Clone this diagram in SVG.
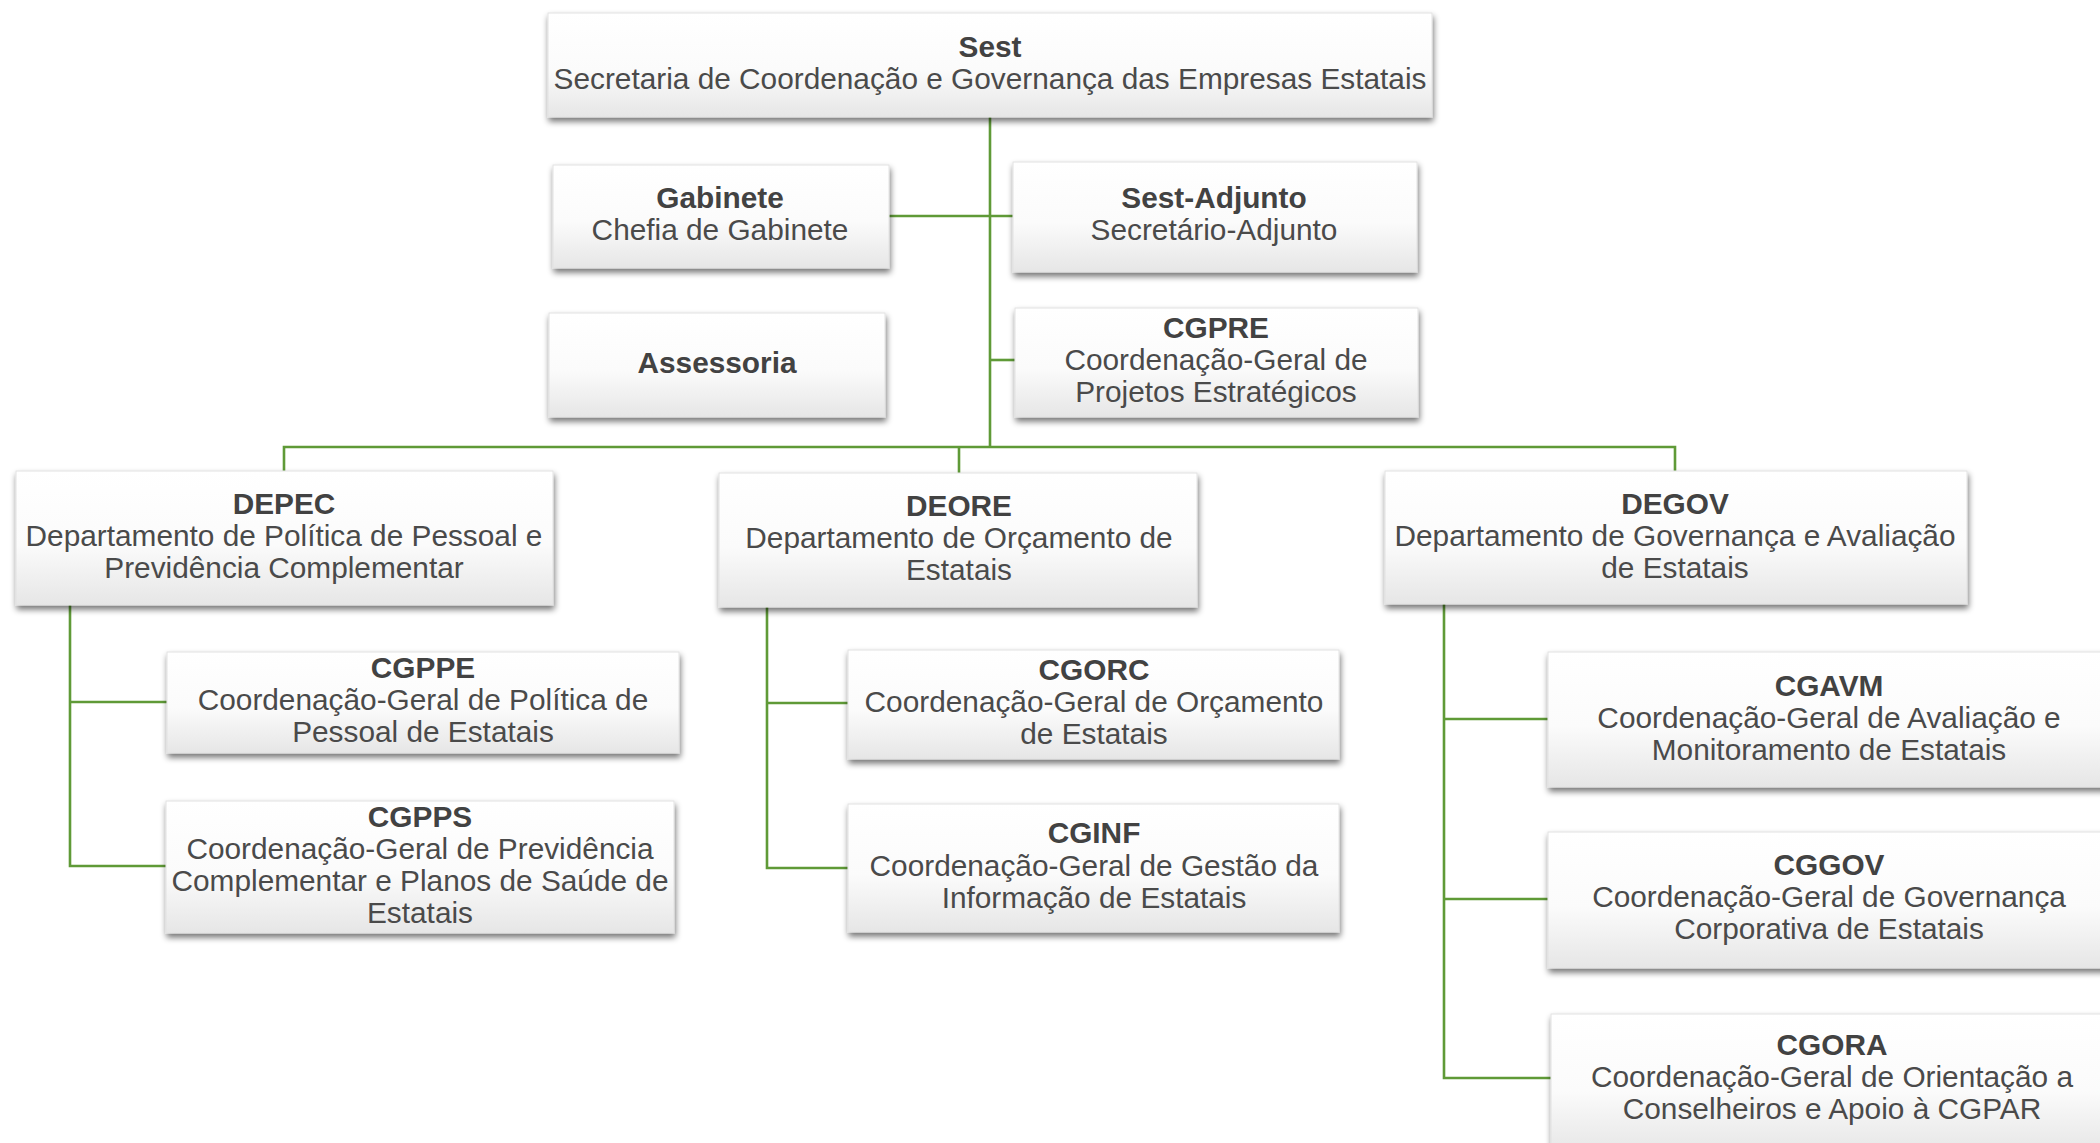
<svg xmlns="http://www.w3.org/2000/svg" width="2100" height="1143" viewBox="0 0 2100 1143">
<defs>
<linearGradient id="g" x1="0" y1="0" x2="0" y2="1">
<stop offset="0" stop-color="#ffffff"/>
<stop offset="0.55" stop-color="#fbfbfb"/>
<stop offset="1" stop-color="#e6e6e6"/>
</linearGradient>
<filter id="sh" x="-5%" y="-10%" width="112%" height="130%">
<feGaussianBlur in="SourceAlpha" stdDeviation="3"/>
<feOffset dx="1" dy="4" result="b"/>
<feComponentTransfer><feFuncA type="linear" slope="0.55"/></feComponentTransfer>
<feMerge><feMergeNode/><feMergeNode in="SourceGraphic"/></feMerge>
</filter>
</defs>
<style>
.box{fill:url(#g);stroke:#e2e2e2;stroke-width:1;filter:url(#sh)}
text{font-family:"Liberation Sans",Arial,sans-serif;font-size:29.8px;fill:#4a4a4a;text-anchor:middle}
.t{font-weight:bold;fill:#424242}
.c{fill:none;stroke:#5f9a37;stroke-width:2.6}
</style>
<rect width="2100" height="1143" fill="#ffffff"/>
<g id="connectors">
<path class="c" d="M990 117 V447"/>
<path class="c" d="M889 216 H1013"/>
<path class="c" d="M990 360 H1015"/>
<path class="c" d="M284 471 V447 H1675 V471"/>
<path class="c" d="M959 447 V473"/>
<path class="c" d="M70 605 V866 H166"/>
<path class="c" d="M70 702 H167"/>
<path class="c" d="M767 607 V868 H848"/>
<path class="c" d="M767 703 H848"/>
<path class="c" d="M1444 604 V1078 H1551"/>
<path class="c" d="M1444 719 H1548"/>
<path class="c" d="M1444 899 H1548"/>
</g>
<g id="sest">
<rect class="box" x="548" y="13" width="884" height="104"/>
<text class="t" x="990" y="57">Sest</text>
<text x="990" y="89">Secretaria de Coordenação e Governança das Empresas Estatais</text>
</g>
<g id="gabinete">
<rect class="box" x="553" y="165" width="336" height="103"/>
<text class="t" x="720" y="208">Gabinete</text>
<text x="720" y="240">Chefia de Gabinete</text>
</g>
<g id="sest-adjunto">
<rect class="box" x="1013" y="162" width="404" height="110"/>
<text class="t" x="1214" y="208">Sest-Adjunto</text>
<text x="1214" y="240">Secretário-Adjunto</text>
</g>
<g id="assessoria">
<rect class="box" x="549" y="313" width="336" height="104"/>
<text class="t" x="717" y="373">Assessoria</text>
</g>
<g id="cgpre">
<rect class="box" x="1015" y="308" width="403" height="109"/>
<text class="t" x="1216" y="338">CGPRE</text>
<text x="1216" y="370">Coordenação-Geral de</text>
<text x="1216" y="402">Projetos Estratégicos</text>
</g>
<g id="depec">
<rect class="box" x="16" y="471" width="537" height="134"/>
<text class="t" x="284" y="514">DEPEC</text>
<text x="284" y="546">Departamento de Política de Pessoal e</text>
<text x="284" y="578">Previdência Complementar</text>
</g>
<g id="deore">
<rect class="box" x="719" y="473" width="478" height="134"/>
<text class="t" x="959" y="516">DEORE</text>
<text x="959" y="548">Departamento de Orçamento de</text>
<text x="959" y="580">Estatais</text>
</g>
<g id="degov">
<rect class="box" x="1385" y="471" width="582" height="133"/>
<text class="t" x="1675" y="514">DEGOV</text>
<text x="1675" y="546">Departamento de Governança e Avaliação</text>
<text x="1675" y="578">de Estatais</text>
</g>
<g id="cgppe">
<rect class="box" x="167" y="652" width="512" height="101"/>
<text class="t" x="423" y="678">CGPPE</text>
<text x="423" y="710">Coordenação-Geral de Política de</text>
<text x="423" y="742">Pessoal de Estatais</text>
</g>
<g id="cgpps">
<rect class="box" x="166" y="801" width="508" height="132"/>
<text class="t" x="420" y="827">CGPPS</text>
<text x="420" y="859">Coordenação-Geral de Previdência</text>
<text x="420" y="891">Complementar e Planos de Saúde de</text>
<text x="420" y="923">Estatais</text>
</g>
<g id="cgorc">
<rect class="box" x="848" y="650" width="491" height="109"/>
<text class="t" x="1094" y="680">CGORC</text>
<text x="1094" y="712">Coordenação-Geral de Orçamento</text>
<text x="1094" y="744">de Estatais</text>
</g>
<g id="cginf">
<rect class="box" x="848" y="804" width="491" height="128"/>
<text class="t" x="1094" y="843">CGINF</text>
<text x="1094" y="876">Coordenação-Geral de Gestão da</text>
<text x="1094" y="908">Informação de Estatais</text>
</g>
<g id="cgavm">
<rect class="box" x="1548" y="652" width="562" height="135"/>
<text class="t" x="1829" y="696">CGAVM</text>
<text x="1829" y="728">Coordenação-Geral de Avaliação e</text>
<text x="1829" y="760">Monitoramento de Estatais</text>
</g>
<g id="cggov">
<rect class="box" x="1548" y="832" width="562" height="136"/>
<text class="t" x="1829" y="875">CGGOV</text>
<text x="1829" y="907">Coordenação-Geral de Governança</text>
<text x="1829" y="939">Corporativa de Estatais</text>
</g>
<g id="cgora">
<rect class="box" x="1551" y="1014" width="562" height="140"/>
<text class="t" x="1832" y="1055">CGORA</text>
<text x="1832" y="1087">Coordenação-Geral de Orientação a</text>
<text x="1832" y="1119">Conselheiros e Apoio à CGPAR</text>
</g>
</svg>
